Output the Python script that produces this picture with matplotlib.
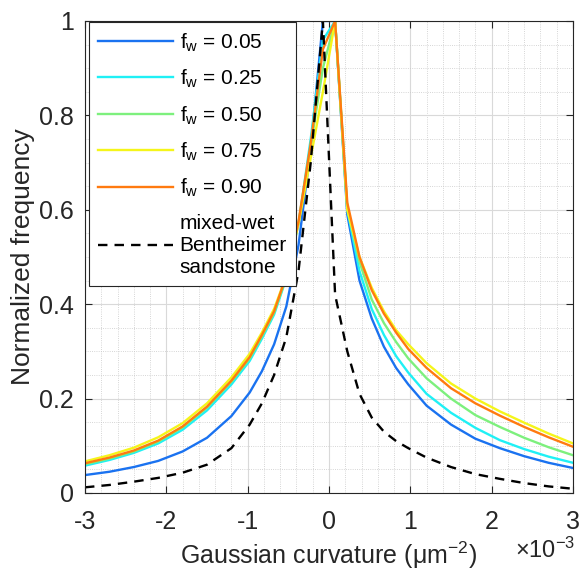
import matplotlib
matplotlib.use("Agg")
import matplotlib.pyplot as plt
from matplotlib.ticker import MultipleLocator

plt.rcParams['font.family'] = ['Liberation Sans', 'DejaVu Sans']
plt.rcParams['axes.unicode_minus'] = False
plt.rcParams['mathtext.fontset'] = 'custom'
plt.rcParams['mathtext.rm'] = 'Liberation Sans'
plt.rcParams['mathtext.it'] = 'Liberation Sans'

# Gaussian curvature (x 10^-3 um^-2)
curvature = [-3.0, -2.7, -2.4, -2.1, -1.8, -1.5, -1.2, -0.975, -0.825, -0.675,
             -0.525, -0.375, -0.225, -0.075, 0.075, 0.225, 0.375, 0.525, 0.675,
             0.825, 0.975, 1.2, 1.5, 1.8, 2.1, 2.4, 2.7, 3.0]

fw_005 = [0.038, 0.045, 0.055, 0.068, 0.088, 0.117, 0.163, 0.213, 0.258, 0.315,
          0.395, 0.525, 0.73, 1.0, 1.0, 0.59, 0.45, 0.37, 0.31,
          0.265, 0.23, 0.185, 0.145, 0.115, 0.095, 0.078, 0.064, 0.053]
fw_025 = [0.058, 0.07, 0.085, 0.105, 0.134, 0.175, 0.23, 0.28, 0.327, 0.378,
          0.455, 0.57, 0.75, 0.96, 1.0, 0.60, 0.47, 0.39, 0.335,
          0.29, 0.255, 0.21, 0.17, 0.138, 0.112, 0.093, 0.077, 0.064]
fw_050 = [0.061, 0.073, 0.088, 0.109, 0.139, 0.181, 0.236, 0.285, 0.332, 0.382,
          0.457, 0.572, 0.735, 0.90, 1.0, 0.605, 0.49, 0.41, 0.36,
          0.32, 0.285, 0.243, 0.20, 0.165, 0.14, 0.117, 0.097, 0.08]
fw_075 = [0.067, 0.08, 0.096, 0.118, 0.148, 0.19, 0.245, 0.295, 0.34, 0.39,
          0.46, 0.57, 0.71, 0.85, 1.0, 0.60, 0.50, 0.435, 0.385,
          0.345, 0.315, 0.275, 0.232, 0.20, 0.173, 0.149, 0.126, 0.105]
fw_090 = [0.063, 0.075, 0.09, 0.111, 0.141, 0.183, 0.238, 0.288, 0.335, 0.385,
          0.46, 0.575, 0.74, 0.94, 1.0, 0.615, 0.50, 0.43, 0.38,
          0.34, 0.305, 0.265, 0.222, 0.19, 0.164, 0.14, 0.118, 0.098]
bentheimer = [0.012, 0.017, 0.024, 0.032, 0.043, 0.06, 0.095, 0.145, 0.19, 0.25,
              0.33, 0.47, 0.70, 1.0, 0.42, 0.30, 0.21, 0.16, 0.13,
              0.11, 0.095, 0.075, 0.055, 0.04, 0.03, 0.021, 0.014, 0.009]

series = [fw_005, fw_025, fw_050, fw_075, fw_090]
labels = [r"f$_\mathregular{w}$ = 0.05", r"f$_\mathregular{w}$ = 0.25",
          r"f$_\mathregular{w}$ = 0.50", r"f$_\mathregular{w}$ = 0.75",
          r"f$_\mathregular{w}$ = 0.90"]
colors = ["#1a72f0", "#1ff0f5", "#7df07d", "#f5f51a", "#ff7a10"]
bent_label = "mixed-wet\nBentheimer\nsandstone"

fig = plt.figure(figsize=(5.8, 5.72), dpi=100)
ax = fig.add_axes([85/580, 79/572, 488/580, 472/572])

for y, lab, c in zip(series, labels, colors):
    ax.plot(curvature, y, color=c, lw=1.7, label=lab)
ax.plot(curvature, bentheimer, color='black', lw=1.7, ls=(0, (4, 3)), label=bent_label)

ax.set_xlim(-3, 3)
ax.set_ylim(0, 1)
ax.xaxis.set_minor_locator(MultipleLocator(0.2))
ax.yaxis.set_minor_locator(MultipleLocator(0.05))
ax.set_xticks([-3, -2, -1, 0, 1, 2, 3])
ax.set_xticklabels(["-3", "-2", "-1", "0", "1", "2", "3"])
ax.set_yticks([0, 0.2, 0.4, 0.6, 0.8, 1])
ax.set_yticklabels(["0", "0.2", "0.4", "0.6", "0.8", "1"])
ax.grid(True, which='major', color='#d9d9d9', lw=0.8, ls='-')
ax.grid(True, which='minor', color='#c8c8c8', lw=0.6, ls=':')
ax.set_axisbelow(True)
ax.tick_params(which='both', direction='in', top=True, right=True, labelsize=18,
               color='#262626', labelcolor='#262626')
ax.tick_params(axis='x', pad=12)
ax.tick_params(axis='y', pad=8)
ax.tick_params(which='major', length=5)
ax.tick_params(which='minor', length=0)
for s in ax.spines.values():
    s.set_color('#262626')
    s.set_linewidth(0.8)

ax.set_ylabel("Normalized frequency", fontsize=19, color='#262626', labelpad=3)
ax.set_xlabel("Gaussian curvature (μm$^\\mathregular{-2}$)", fontsize=18,
              color='#262626', labelpad=4)
fig.text(575/580, 1 - 558/572, r"$\times$10$^\mathregular{-3}$", fontsize=17,
         color='#262626', ha='right', va='baseline')

leg = ax.legend(loc='upper left', bbox_to_anchor=(0.008, 0.998), fontsize=15,
                handlelength=3.6, handletextpad=0.3, labelspacing=0.68,
                borderpad=0.45, borderaxespad=0.0, fancybox=False, framealpha=1,
                edgecolor='#262626')
leg.get_frame().set_linewidth(0.8)

fig.savefig("out.png", dpi=100)
